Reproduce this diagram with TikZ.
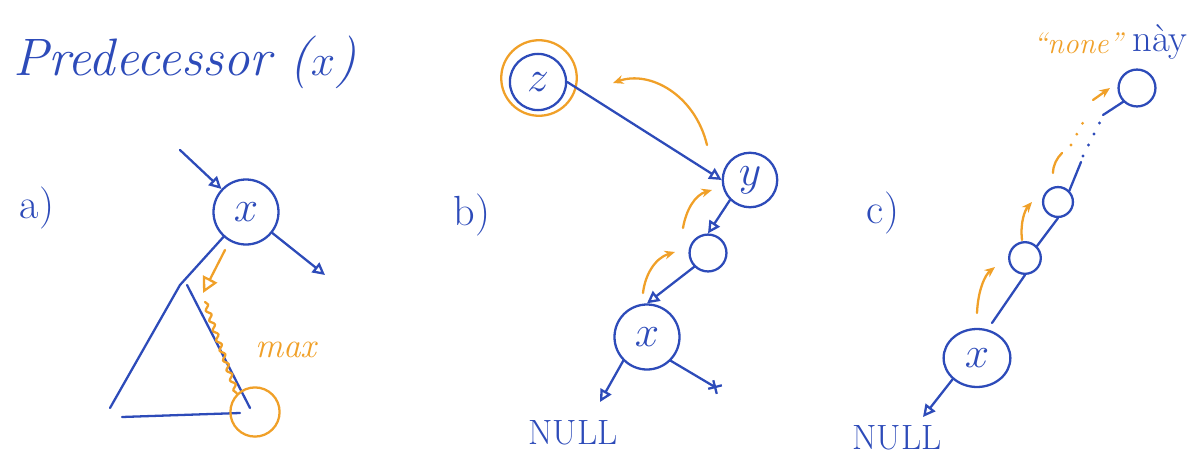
\documentclass[tikz,border=0pt]{standalone}
\usetikzlibrary{arrows.meta,decorations.pathmorphing,shapes.geometric}
\definecolor{inkblue}{RGB}{45,75,185}
\definecolor{inkorange}{RGB}{240,160,40}
\newcommand{\fs}[1]{\fontsize{#1}{#1}\selectfont}
\begin{document}
\begin{tikzpicture}[x=0.02cm,y=-0.02cm,
  ink/.style={draw=inkblue,line width=1.3pt,line cap=round},
  oink/.style={draw=inkorange,line width=1.3pt,line cap=round},
  dots/.style={line width=1.8pt,line cap=round,dash pattern=on 0pt off 7pt},
  tip/.style={-{Triangle[open,length=7pt,width=7pt]}},
  otip/.style={-{Stealth[length=6pt,width=5pt]}},
  bignode/.style={circle,draw=inkblue,line width=1.3pt,text=inkblue,minimum size=37pt,inner sep=0pt,font=\fs{30}},
  smallnode/.style={circle,draw=inkblue,line width=1.3pt,inner sep=0pt},
  lbl/.style={text=inkblue,font=\fs{24}},
  olbl/.style={text=inkorange,font=\fs{20}\itshape}]
\useasboundingbox (0,0) rectangle (1187,460);
% title
\node[lbl,font=\fs{30}\itshape] (title) at (185,62) {Predecessor ($x$)};
% labels
\node[lbl] (la) at (37,208) {a)};
\node[lbl] (lb) at (472,215) {b)};
\node[lbl] (lc) at (883,213) {c)};
% ---------- panel a
\node[bignode] (ax) at (246,212) {$x$};
\coordinate (ain) at (180,150);
\coordinate (aright) at (325,275);
\draw[ink,tip] (ain) -- (ax);
\draw[ink,tip] (ax) -- (aright);
\coordinate (apex) at (180,285);
\coordinate (abl) at (110,408);
\coordinate (abr) at (250,408);
\coordinate (ab1) at (122,417);
\coordinate (ab2) at (240,413);
\draw[ink] (ax) -- (apex);
\draw[ink] (apex) -- (abl);
\draw[ink] ([xshift=4]apex) -- (abr);
\draw[ink] (ab1) -- (ab2);
\node[circle,draw=inkorange,line width=1.3pt,minimum size=28pt] (amax) at (255,412) {};
\coordinate (ao1) at (225,250);
\coordinate (ao2) at (203,293);
\draw[oink,-{Triangle[open,length=9pt,width=9pt]}] (ao1) -- (ao2);
\draw[oink,decorate,decoration={snake,amplitude=1.2pt,segment length=6pt}] (205,302) -- (amax.north west);
\node[olbl] (maxl) at (286,350) {max};
% ---------- panel b
\node[bignode,minimum size=32pt] (z) at (538,82) {$z$};
\node[circle,draw=inkorange,line width=1.3pt,minimum size=43pt] (zz) at (539,78) {};
\node[bignode,minimum size=31pt] (y) at (750,180) {$y$};
\node[smallnode,minimum size=21pt] (bm) at (708,253) {};
\node[bignode] (bx) at (647,337) {$x$};
\draw[ink,tip] (z.east) -- (y.west);
\draw[ink,tip] (y.south west) -- (bm.north);
\draw[ink,tip] (bm.south west) -- (bx.north);
\coordinate (bnull) at (600,402);
\coordinate (bright) at (720,390);
\draw[ink,tip] (bx.south west) -- (bnull);
\draw[ink,-{Rays[length=8pt,width=8pt]}] (bx.south east) -- (bright);
\node[lbl,font=\fs{20}] (bnl) at (573,433) {NULL};
\draw[oink,otip] (707,145) .. controls (695,95) and (650,70) .. (613,83);
\draw[oink,otip] (683,228) .. controls (686,210) and (695,195) .. (712,190);
\draw[oink,otip] (643,293) .. controls (645,275) and (655,258) .. (675,252);
% ---------- panel c
\node[bignode,ellipse,minimum width=38pt,minimum height=33pt] (cx) at (977,358) {$x$};
\node[smallnode,minimum size=18pt] (c1) at (1025,258) {};
\node[smallnode,minimum size=17pt] (c2) at (1058,202) {};
\node[smallnode,minimum size=21pt] (c3) at (1137,88) {};
\coordinate (cnull) at (923,417);
\draw[ink,tip] (cx.south west) -- (cnull);
\node[lbl,font=\fs{20}] (cnl) at (897,438) {NULL};
\draw[ink] (992,323) -- (c1.south);
\draw[ink] (c1.north east) -- (c2.south);
\coordinate (cd1) at (1081,162);
\coordinate (cd2) at (1100,122);
\draw[ink] (c2.north east) -- (cd1);
\draw[draw=inkblue,dots] ([shift={(2,-6)}]cd1) -- (cd2);
\draw[ink] ([shift={(3,-7)}]cd2) -- (c3.south west);
\draw[oink,otip] (977,313) .. controls (978,290) and (985,275) .. (995,267);
\draw[oink,otip] (1022,240) .. controls (1020,222) and (1025,210) .. (1032,202);
\draw[oink] (1053,173) .. controls (1053,165) and (1057,158) .. (1062,153);
\draw[draw=inkorange,dots] (1071,145) -- (1088,113);
\draw[oink,otip] (1093,100) -- (1110,88);
\node[olbl,font=\fs{17}\itshape] (none) at (1078,43) {``none''};
\node[lbl,font=\fs{22}] (nay) at (1160,42) {này};
\end{tikzpicture}
\end{document}
